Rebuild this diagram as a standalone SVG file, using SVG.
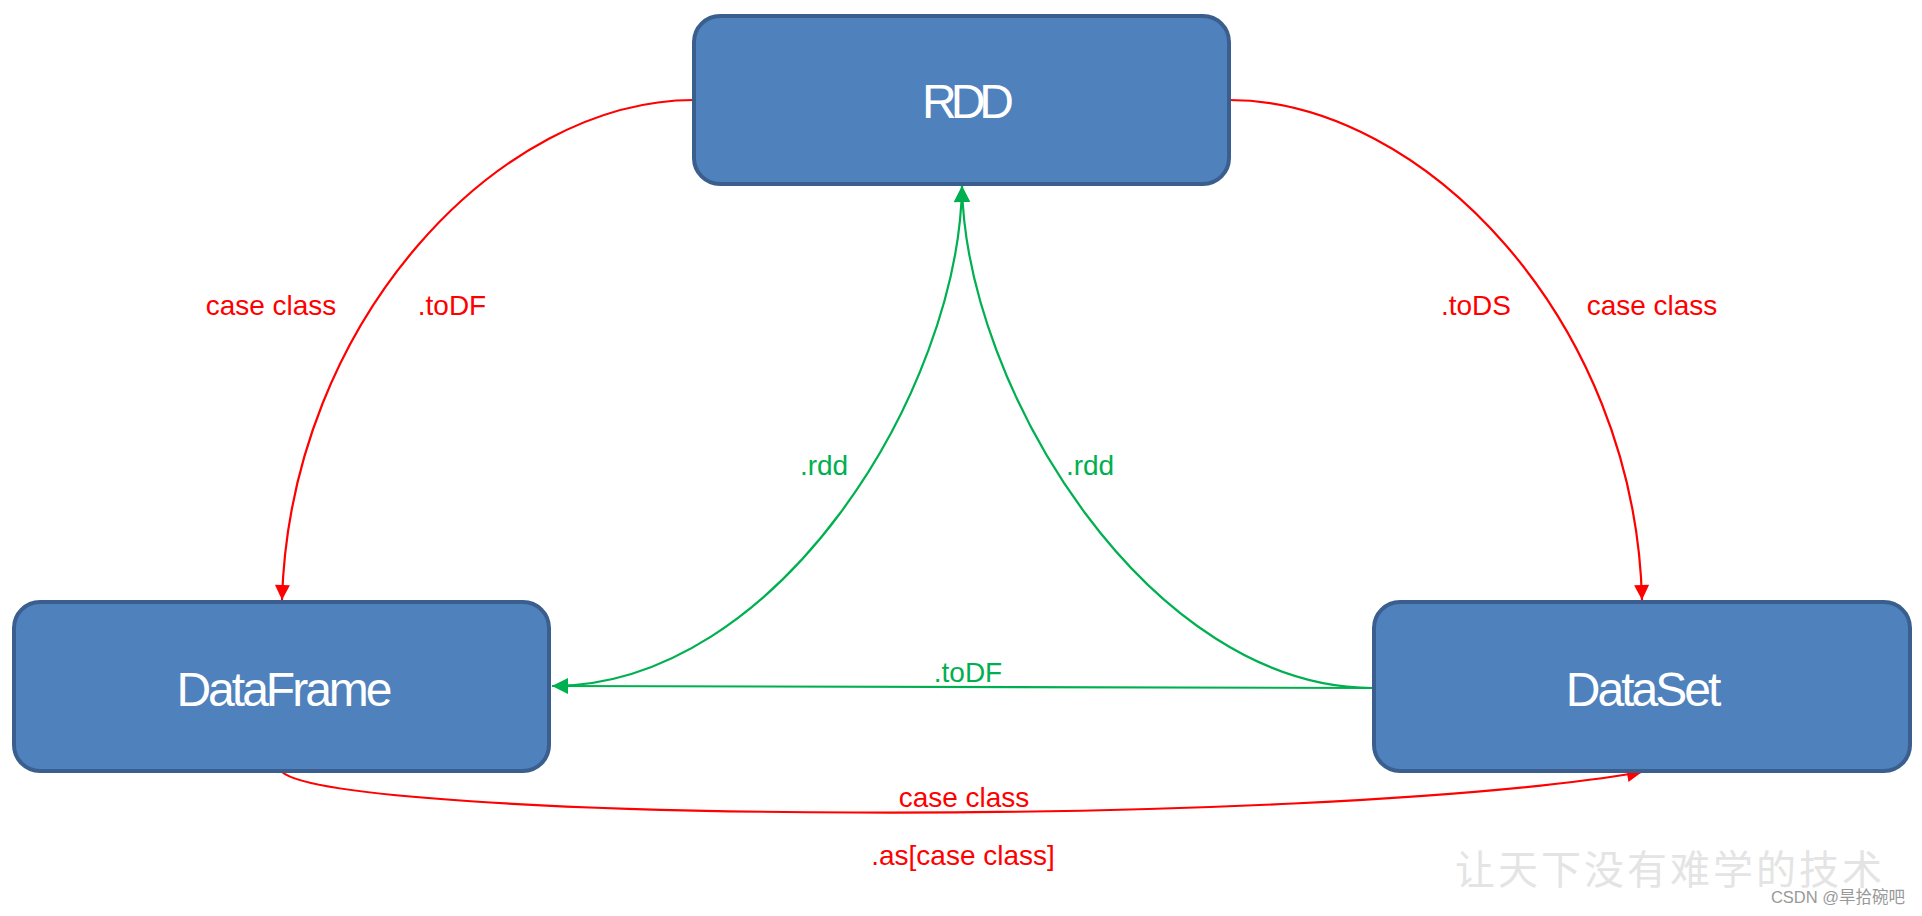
<svg xmlns="http://www.w3.org/2000/svg" width="1922" height="916" viewBox="0 0 1922 916">
<style>
.node rect{fill:#4f81bd;stroke:#3a5f8e;stroke-width:4}
.nt{font-family:"Liberation Sans",Arial,sans-serif;font-size:48px;fill:#fff;text-anchor:middle}
.lbl{font-family:"Liberation Sans",Arial,sans-serif;font-size:28px;text-anchor:middle}
.red{fill:#ff0000}
.grn{fill:#00b050}
.cr{fill:none;stroke:#ff0000;stroke-width:2.2}
.cg{fill:none;stroke:#00b050;stroke-width:2.2}
</style>
<defs>
<marker id="ar" viewBox="0 0 10 10" refX="10" refY="5" markerWidth="16" markerHeight="15" markerUnits="userSpaceOnUse" orient="auto"><path d="M0,0 L10,5 L0,10 z" fill="#ff0000"/></marker>
<marker id="ag" viewBox="0 0 10 10" refX="10" refY="5" markerWidth="17" markerHeight="16" markerUnits="userSpaceOnUse" orient="auto"><path d="M0,0 L10,5 L0,10 z" fill="#00b050"/></marker>
</defs>
<rect width="1922" height="916" fill="#fff"/>
<g id="connectors">
<path class="cr" d="M694 100 C500 100 290 320 282 600" marker-end="url(#ar)"/>
<path class="cr" d="M1229 100 C1423 100 1635 320 1642 600" marker-end="url(#ar)"/>
<path class="cr" d="M282 772 C340 822 1300 830 1642 772" marker-end="url(#ar)"/>
<path class="cg" d="M552 686 C778 686 959 390 962 186" marker-end="url(#ag)"/>
<path class="cg" d="M1373 688 C1150 688 966 390 962 186" marker-end="url(#ag)"/>
<path class="cg" d="M1373 688 L552 686" marker-end="url(#ag)"/>
</g>
<g id="labels">
<text class="lbl red" x="271" y="315">case class</text>
<text class="lbl red" x="452" y="315">.toDF</text>
<text class="lbl red" x="1476" y="315">.toDS</text>
<text class="lbl red" x="1652" y="315">case class</text>
<text class="lbl grn" x="824" y="475">.rdd</text>
<text class="lbl grn" x="1090" y="475">.rdd</text>
<text class="lbl grn" x="968" y="682">.toDF</text>
<text class="lbl red" x="964" y="807">case class</text>
<text class="lbl red" x="963" y="865">.as[case class]</text>
</g>
<g id="rdd" class="node">
<rect x="694" y="16" width="535" height="168" rx="26"/>
<text class="nt" x="965" y="118" letter-spacing="-6">RDD</text>
</g>
<g id="dataframe" class="node">
<rect x="14" y="602" width="535" height="169" rx="26"/>
<text class="nt" x="283" y="706" letter-spacing="-3">DataFrame</text>
</g>
<g id="dataset" class="node">
<rect x="1374" y="602" width="536" height="169" rx="26"/>
<text class="nt" x="1642" y="706" letter-spacing="-3">DataSet</text>
</g>
<g id="watermark">
<text x="1670" y="884" font-family="'Noto Sans CJK SC',sans-serif" font-size="40" fill="#e4e4e4" text-anchor="middle" letter-spacing="3">让天下没有难学的技术</text>
<text x="1905" y="903" font-family="'Liberation Sans','Noto Sans CJK SC',sans-serif" font-size="16.5" fill="#999" text-anchor="end">CSDN @旱拾碗吧</text>
</g>
</svg>
